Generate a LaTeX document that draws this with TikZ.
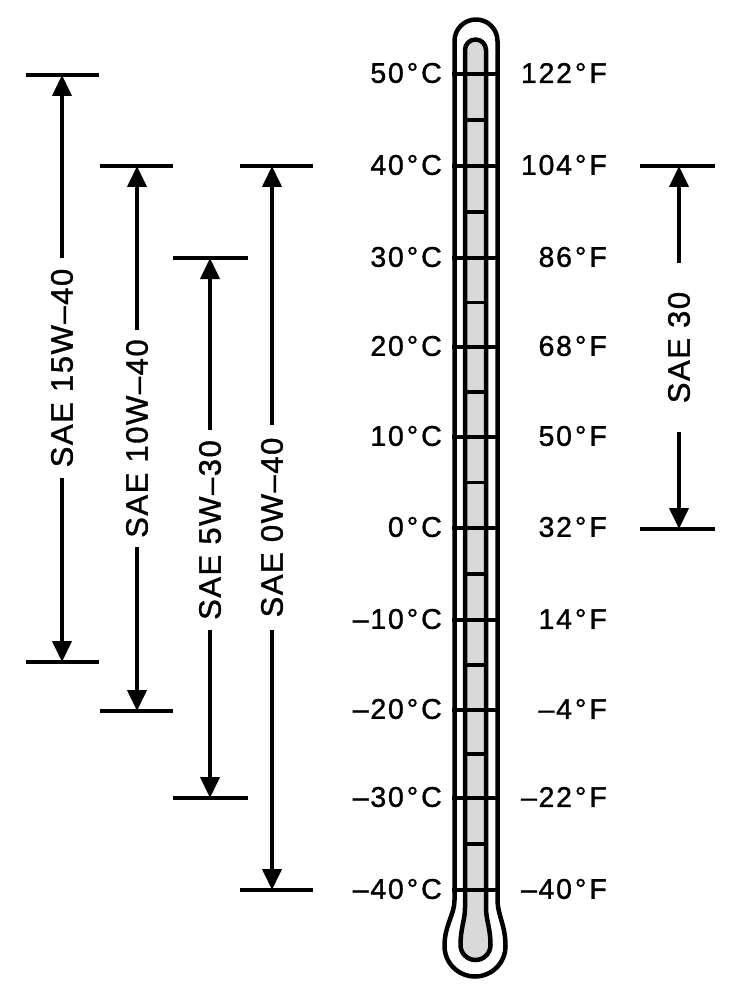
\documentclass[tikz,border=0pt]{standalone}
\usepackage{fontspec}
\setmainfont{Liberation Sans}
\newfontfamily\saefont[LetterSpace=5,FakeBold=1.2]{Liberation Sans}
\newfontfamily\tempfont[LetterSpace=6,FakeBold=1.2]{Liberation Sans}
\usetikzlibrary{arrows.meta}
\begin{document}
\begin{tikzpicture}[x=1pt,y=-1pt,
  tube/.style={line width=4.5pt,line join=round},
  tickmark/.style={line width=4pt},
  minortick/.style={line width=3.5pt},
  bar/.style={line width=4.5pt},
  dim/.style={line width=4pt,-{Triangle[length=21pt,width=19pt]}},
  temp/.style={anchor=east,inner sep=0pt,font=\tempfont\fontsize{28.5}{30}\selectfont},
  sae/.style={rotate=90,inner sep=0pt,font=\saefont\fontsize{31}{33}\selectfont}]
\useasboundingbox (0,0) rectangle (733,1000);

% thermometer inner column
\draw[tube,fill=black!15] (465,908) -- (465,50) arc[start angle=180,end angle=0,radius=10.5pt]
  -- (486,908) .. controls (486,920) and (490.5,928) .. (490.5,945)
  arc[start angle=0,end angle=-180,radius=15pt]
  .. controls (460.5,928) and (465,920) .. (465,908) -- cycle;
% thermometer outer glass
\draw[tube] (454.5,900) -- (454.5,41) arc[start angle=180,end angle=0,radius=21.5pt]
  -- (497.5,900) .. controls (497.5,915) and (505.5,925) .. (505.5,946)
  arc[start angle=0,end angle=-180,radius=30.5pt]
  .. controls (444.5,925) and (454.5,915) .. (454.5,900) -- cycle;

% scale
\foreach \y/\c/\f [count=\i] in {74/50/122,166/40/104,258/30/86,347/20/68,437/10/50,
    528/0/32,620/–10/14,710/–20/–4,798/–30/–22,890/–40/–40}{
  \draw[tickmark] (452,\y) -- (500,\y);
  \node[temp] (c\i) at (442,\y-1) {\c\kern3pt°\kern3ptC};
  \node[temp] (f\i) at (607,\y-1) {\f\kern3pt°\kern3ptF};
}
\foreach \y in {120,212,302.5,392,482.5,574,665,754,844}{
  \draw[minortick] (465,\y) -- (486,\y);
}

% SAE 15W-40
\coordinate (t15) at (62,75); \coordinate (b15) at (62,662);
\draw[bar] (26,75) -- (99,75); \draw[bar] (26,662) -- (99,662);
\node[sae,minimum width=220pt] (s15) at (62,368) {SAE 15W–40};
\draw[dim] (s15.east) -- (t15); \draw[dim] (s15.west) -- (b15);

% SAE 10W-40
\coordinate (t10) at (137,166); \coordinate (b10) at (137,711);
\draw[bar] (100,166) -- (173,166); \draw[bar] (100,711) -- (173,711);
\node[sae,minimum width=217pt] (s10) at (137,438.5) {SAE 10W–40};
\draw[dim] (s10.east) -- (t10); \draw[dim] (s10.west) -- (b10);

% SAE 5W-30
\coordinate (t5) at (210,258); \coordinate (b5) at (210,798);
\draw[bar] (173,258) -- (248,258); \draw[bar] (173,798) -- (248,798);
\node[sae,minimum width=200pt] (s5) at (210,530) {SAE 5W–30};
\draw[dim] (s5.east) -- (t5); \draw[dim] (s5.west) -- (b5);

% SAE 0W-40
\coordinate (t0) at (272,166); \coordinate (b0) at (272,890);
\draw[bar] (240,166) -- (313,166); \draw[bar] (240,890) -- (313,890);
\node[sae,minimum width=205pt] (s0) at (272,527.5) {SAE 0W–40};
\draw[dim] (s0.east) -- (t0); \draw[dim] (s0.west) -- (b0);

% SAE 30
\coordinate (t30) at (679,166); \coordinate (b30) at (679,529);
\draw[bar] (640,166) -- (715,166); \draw[bar] (640,529) -- (715,529);
\node[sae,minimum width=169pt] (s30) at (679,347.5) {SAE 30};
\draw[dim] (s30.east) -- (t30); \draw[dim] (s30.west) -- (b30);
\end{tikzpicture}
\end{document}
